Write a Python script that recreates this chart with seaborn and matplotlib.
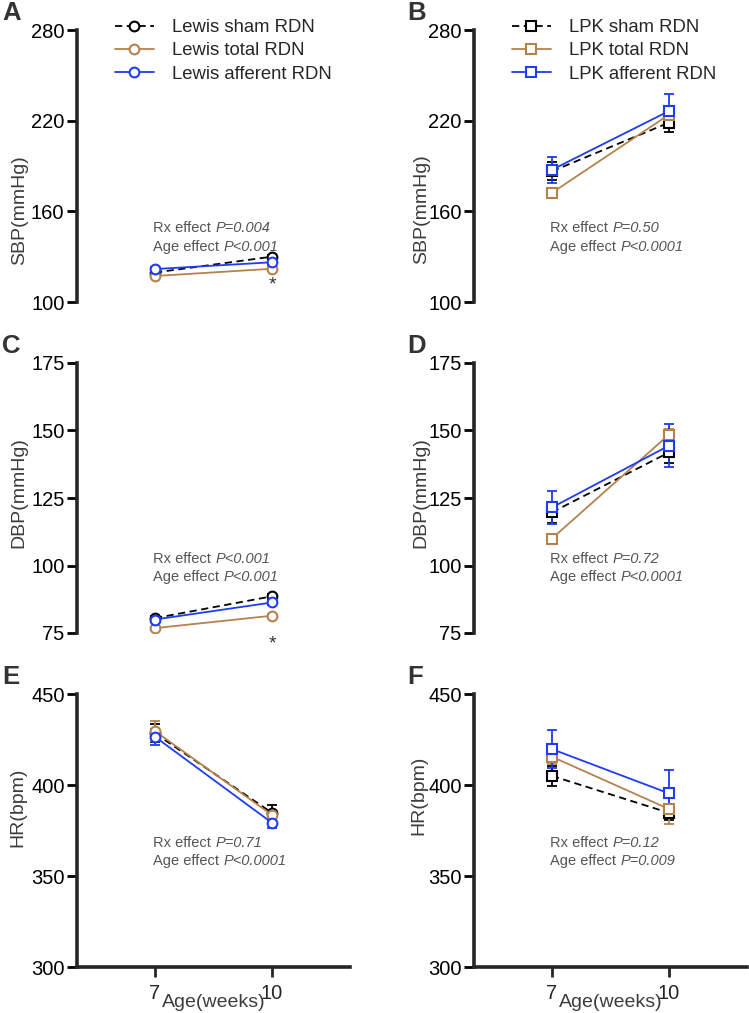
import matplotlib
matplotlib.use("Agg")
import matplotlib.pyplot as plt
import numpy as np
import pandas as pd
import seaborn as sns

# ---- data ----
ages = [7, 10]
lewis_groups = ["Lewis sham RDN", "Lewis total RDN", "Lewis afferent RDN"]
lpk_groups = ["LPK sham RDN", "LPK total RDN", "LPK afferent RDN"]

# mean / sem per group, at 7 and 10 weeks (order: sham, total, afferent)
sbp_lewis = [[119.5, 130.0], [117.2, 122.0], [121.8, 126.3]]
sbp_lewis_sem = [[1.0, 1.2], [1.0, 1.2], [1.2, 1.5]]
sbp_lpk = [[186.5, 218.7], [172.3, 224.0], [187.5, 226.4]]
sbp_lpk_sem = [[6.0, 6.5], [2.0, 5.0], [8.5, 11.0]]

dbp_lewis = [[80.5, 88.6], [76.8, 81.4], [80.0, 86.3]]
dbp_lewis_sem = [[0.8, 0.8], [0.6, 0.8], [1.0, 1.0]]
dbp_lpk = [[119.7, 141.9], [110.0, 148.5], [121.5, 144.4]]
dbp_lpk_sem = [[4.0, 4.0], [1.5, 2.0], [6.0, 8.0]]

hr_lewis = [[428.4, 384.7], [429.6, 383.5], [426.5, 379.2]]
hr_lewis_sem = [[5.0, 4.5], [5.5, 3.0], [4.5, 3.0]]
hr_lpk = [[405.0, 384.7], [415.5, 386.8], [419.7, 395.4]]
hr_lpk_sem = [[5.7, 4.0], [4.0, 8.0], [10.3, 12.8]]

stats_text = {
    "A": ("P=0.004", "P<0.001"),
    "B": ("P=0.50", "P<0.0001"),
    "C": ("P<0.001", "P<0.001"),
    "D": ("P=0.72", "P<0.0001"),
    "E": ("P=0.71", "P<0.0001"),
    "F": ("P=0.12", "P=0.009"),
}

colors = ["black", "#b5824c", "#1f3cf5"]

# ---- style ----
sns.set_style("ticks")
plt.rcParams["font.family"] = ["Liberation Sans", "DejaVu Sans"]

fig = plt.figure(figsize=(7.49, 10.13), dpi=100)
W, H = 749, 1013


def px_axes(left, top, right, bottom):
    return fig.add_axes([left / W, 1 - bottom / H, (right - left) / W, (bottom - top) / H])


panels = [
    # key, left, top, right, bottom, means, sems, groups, marker, ylim, yticks, ylabel, ylabel_y, label_x, text_y
    ("A", 77, 30, 350, 302, sbp_lewis, sbp_lewis_sem, lewis_groups, "o",
     (100, 280), [100, 160, 220, 280], "SBP(mmHg)", 0.338, -0.18, (149, 136.4)),
    ("B", 474, 30, 747, 302, sbp_lpk, sbp_lpk_sem, lpk_groups, "s",
     (100, 280), [100, 160, 220, 280], "SBP(mmHg)", 0.34, -0.162, (149, 136.4)),
    ("C", 77, 363, 350, 633, dbp_lewis, dbp_lewis_sem, lewis_groups, "o",
     (75, 175), [75, 100, 125, 150, 175], "DBP(mmHg)", 0.52, -0.18, (102.5, 95.9)),
    ("D", 474, 363, 747, 633, dbp_lpk, dbp_lpk_sem, lpk_groups, "s",
     (75, 175), [75, 100, 125, 150, 175], "DBP(mmHg)", 0.52, -0.162, (102.5, 95.9)),
    ("E", 77, 694, 350, 967, hr_lewis, hr_lewis_sem, lewis_groups, "o",
     (300, 450), [300, 350, 400, 450], "HR(bpm)", 0.586, -0.184, (367.9, 358.3)),
    ("F", 474, 694, 747, 967, hr_lpk, hr_lpk_sem, lpk_groups, "s",
     (300, 450), [300, 350, 400, 450], "HR(bpm)", 0.63, -0.17, (367.9, 358.3)),
]

for (key, l, t, r, b, means, sems, groups, marker, ylim, yticks, ylabel,
     ly, lx, ty) in panels:
    ax = px_axes(l, t, r, b)
    rows = []
    for g, m, s in zip(groups, means, sems):
        for a, mv, sv in zip(ages, m, s):
            rows.append({"age": a, "value": mv, "err": sv, "group": g})
    df = pd.DataFrame(rows)

    sns.lineplot(
        data=df, x="age", y="value", hue="group", style="group",
        hue_order=groups, style_order=groups,
        palette=dict(zip(groups, colors)),
        dashes={groups[0]: (4, 2.5), groups[1]: "", groups[2]: ""},
        markers={g: marker for g in groups},
        markersize=7, linewidth=1.3, legend=False, ax=ax,
    )
    lines = list(ax.lines)
    for ln in lines:
        ln.set_markeredgecolor(ln.get_color())
        ln.set_markerfacecolor("white")
        ln.set_markeredgewidth(1.5)
        ln.set_zorder(3)

    for i, g in enumerate(groups):
        sub = df[df["group"] == g]
        ax.errorbar(sub["age"], sub["value"], yerr=sub["err"], fmt="none",
                    ecolor=colors[i], elinewidth=1.3, capsize=3.5,
                    capthick=1.3, zorder=2)

    ax.set_xlim(5, 12)
    ax.set_ylim(*ylim)
    ax.set_yticks(yticks)
    ax.tick_params(axis="y", length=7, width=2, labelsize=14.5, pad=2,
                   colors="black")
    for side in ["top", "right"]:
        ax.spines[side].set_visible(False)
    ax.spines["left"].set_linewidth(2.6)
    ax.spines["bottom"].set_linewidth(2.6)
    ax.set_ylabel(ylabel, fontsize=14, color="#3c3c3c")
    ax.yaxis.set_label_coords(lx, ly)

    if key in ("E", "F"):
        ax.set_xticks(ages)
        ax.tick_params(axis="x", length=7.5, width=2, labelsize=14.5, pad=5)
        ax.set_xlabel("Age(weeks)", fontsize=14, color="#3c3c3c")
        ax.xaxis.set_label_coords(0.5, -0.1)
    else:
        ax.spines["bottom"].set_visible(False)
        ax.set_xticks([])
        ax.set_xlabel("")

    # panel letter
    fig.text((l - 75) / W if key in ("A", "C", "E") else (l - 67) / W,
             1 - (t - 17) / H, key, fontsize=18.5, fontweight="bold",
             color="#333333", ha="left", va="center")

    # statistics annotation
    rx, age = stats_text[key]
    for lbl, pv, yv in (("Rx effect ", rx, ty[0]), ("Age effect ", age, ty[1])):
        t1 = ax.text(6.95, yv, lbl, fontsize=10.5, color="#555555",
                     ha="left", va="center")
        ax.annotate(pv, xy=(1, 0.5), xycoords=t1, xytext=(0, 0),
                    textcoords="offset points", fontsize=10.5,
                    color="#555555", style="italic", ha="left", va="center")

    if key in ("A", "C"):
        star_y = 111.5 if key == "A" else 71.0
        ax.text(10, star_y, "*", fontsize=14, color="#333333",
                ha="center", va="center", clip_on=False)

    if key in ("A", "B"):
        ax.legend(handles=lines, labels=groups, loc="upper left",
                  bbox_to_anchor=(0.139, 1.04), frameon=False,
                  fontsize=13.3, handlelength=2.1, handletextpad=1.0,
                  labelspacing=0.34, borderpad=0, borderaxespad=0)

fig.savefig("out.png", dpi=100)
